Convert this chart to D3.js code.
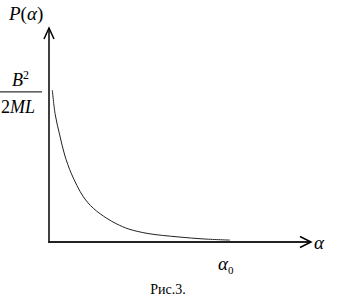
<!DOCTYPE html>
<html>
<head>
<meta charset="utf-8">
<script src="https://cdn.jsdelivr.net/npm/d3@7"></script>
<style>
  body { margin: 0; background: #fff; }
  text { font-family: "Times New Roman", "Liberation Serif", "DejaVu Serif", serif; }
</style>
</head>
<body>
<div id="chart"></div>
<script>
// Curve values (arbitrary units)
const alphaVals = [1.31, 2.5, 4.25, 6.23, 8.93, 13.6, 17.6, 22.9, 26.9, 31.7, 39.3, 51.2, 61.9, 71.8];
const pVals     = [71.7, 59.9, 50.5, 41.0, 32.1, 21.4, 15.9, 11.2, 8.5, 6.1, 4.0, 2.4, 1.4, 0.9];
const yTickVal  = 70.8;   // level of B^2 / 2ML
const xTickVal  = 71.8;   // alpha_0

const width = 340, height = 301;
const origin = { x: 49, y: 242 };

const svg = d3.select("#chart")
  .append("svg")
    .attr("width", width)
    .attr("height", height);

const x = d3.scaleLinear().domain([0, 100]).range([origin.x, origin.x + 252]);
const y = d3.scaleLinear().domain([0, 100]).range([origin.y, origin.y - 212]);

const data = alphaVals.map((a, i) => ({ a, p: pVals[i] }));

// Axes
svg.append("line")
  .attr("x1", origin.x).attr("y1", origin.y + 1)
  .attr("x2", origin.x).attr("y2", 28)
  .attr("stroke", "#000").attr("stroke-width", 1.5);
svg.append("path")
  .attr("d", `M${origin.x - 5},39 L${origin.x},28 L${origin.x + 5},39`)
  .attr("fill", "none").attr("stroke", "#000").attr("stroke-width", 1.5);

svg.append("line")
  .attr("x1", origin.x - 1).attr("y1", origin.y)
  .attr("x2", 311).attr("y2", origin.y)
  .attr("stroke", "#222").attr("stroke-width", 2);
svg.append("path")
  .attr("d", `M300,236.5 L311,${origin.y} L300,247.5`)
  .attr("fill", "none").attr("stroke", "#000").attr("stroke-width", 1.5);

// Curve
const line = d3.line()
  .x(d => x(d.a))
  .y(d => y(d.p))
  .curve(d3.curveCatmullRom);

svg.append("path")
  .datum(data)
  .attr("fill", "none")
  .attr("stroke", "#222")
  .attr("stroke-width", 1)
  .attr("d", line);

// Axis labels
const pLabel = svg.append("text")
  .attr("x", 9).attr("y", 20)
  .style("font-size", "19px");
pLabel.append("tspan").style("font-style", "italic").text("P");
pLabel.append("tspan").text("(");
pLabel.append("tspan").style("font-style", "italic").text("α");
pLabel.append("tspan").text(")");

svg.append("text")
  .attr("x", 314).attr("y", 249)
  .style("font-size", "19px").style("font-style", "italic")
  .text("α");

// Fraction B^2 / 2ML at the y tick
const fy = y(yTickVal);
svg.append("line")
  .attr("x1", 0).attr("y1", fy)
  .attr("x2", 42).attr("y2", fy)
  .attr("stroke", "#000").attr("stroke-width", 1);
const num = svg.append("text")
  .attr("x", 12).attr("y", fy - 6)
  .style("font-size", "18px");
num.append("tspan").style("font-style", "italic").text("B");
num.append("tspan").attr("dy", -7).style("font-size", "12px").text("2");
const den = svg.append("text")
  .attr("x", 1).attr("y", fy + 21)
  .style("font-size", "18px");
den.append("tspan").text("2");
den.append("tspan").style("font-style", "italic").text("ML");

// alpha_0 under x axis
const a0 = svg.append("text")
  .attr("x", x(xTickVal) - 12).attr("y", 270)
  .style("font-size", "19px");
a0.append("tspan").style("font-style", "italic").text("α");
a0.append("tspan").attr("dy", 4).style("font-size", "11px").text("0");

// Caption
svg.append("text")
  .attr("x", 168).attr("y", 294)
  .attr("text-anchor", "middle")
  .style("font-size", "14px")
  .text("Рис.3.");
</script>
</body>
</html>
